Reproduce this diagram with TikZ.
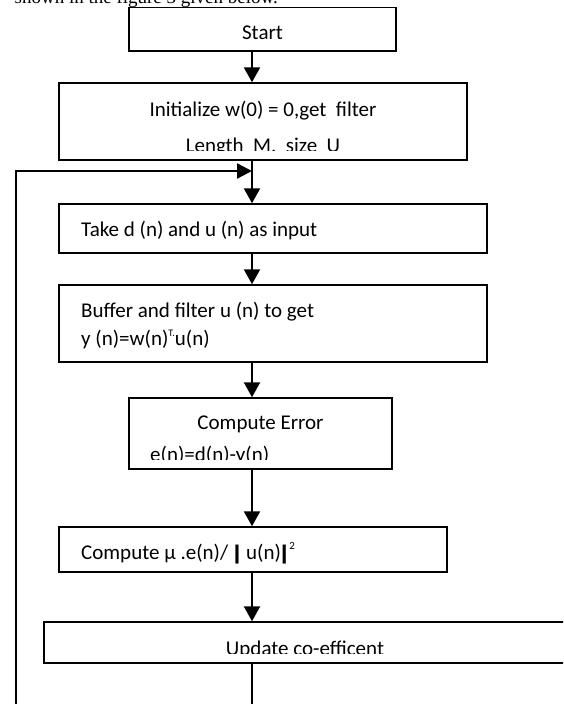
\documentclass[tikz,border=0pt]{standalone}
\usepackage{fontspec}
\setmainfont{Carlito}
\newfontfamily\pageserif{Liberation Serif}
\newfontfamily\barfont{DejaVu Sans}
\usetikzlibrary{arrows.meta}

\newcommand\thickbar{{\barfont\fontsize{19}{19}\selectfont ❙}}

\tikzset{
	box/.style={draw, line width=1.5pt, inner sep=0pt},
	boxtext/.style={inner sep=0pt, font=\fontsize{21}{25}\selectfont},
	flow/.style={line width=2.4pt, -{Triangle[length=15pt,width=16pt]}},
	loopline/.style={line width=2.4pt, -{Triangle[length=15pt,width=15pt]}},
	plainline/.style={line width=1.3pt},
}

\begin{document}
\begin{tikzpicture}[x=1pt, y=-1pt]
		%%%%% START %%%%%
		\clip (0, 0) rectangle (563, 704);
		
		\node[boxtext, font=\pageserif\fontsize{19}{23}\selectfont, anchor=base east] (caption) at (278, 3) {shown in the figure 3 given below.};
		
		\coordinate (spine) at (252, 0);
		\coordinate (join) at (252, 171);
		\coordinate (loopend) at (16, 710);
		
		% boxes
		\node[box, minimum width=267pt, minimum height=43.5pt] (start) at (262.5, 29.25) {};
		\node[box, minimum width=408pt, minimum height=77pt] (init) at (263, 121.5) {};
		\node[box, minimum width=428pt, minimum height=49pt] (take) at (273, 228.5) {};
		\node[box, minimum width=428pt, minimum height=77pt] (buffer) at (273, 323.5) {};
		\node[box, minimum width=263pt, minimum height=71pt] (error) at (260.5, 433.5) {};
		\node[box, minimum width=388pt, minimum height=45pt] (mu) at (253, 549.5) {};
		\node[box, minimum width=556pt, minimum height=41pt] (update) at (322, 642.5) {};
		
		% texts
		\node[boxtext, anchor=base] (starttxt) at (262.5, 39.5) {Start};
		\node[boxtext, anchor=base] (inittxt) at (263, 116) {Initialize w(0) = 0,get~ filter};
		\begin{scope}
			\clip (0, 0) rectangle (563, 150);
			\node[boxtext, anchor=base] (lengthtxt) at (263, 152.7) {Length~ M,~ size~ U};
		\end{scope}
		\node[boxtext, anchor=base west] (taketxt) at (81, 236) {Take d (n) and u (n) as input};
		\node[boxtext, anchor=base west] (buffertxt) at (81, 317) {Buffer and filter u (n) to get};
		\node[boxtext, anchor=base west] (ytxt) at (81, 345) {y (n)=w(n)\raisebox{9pt}{\fontsize{10}{10}\selectfont T.}u(n)};
		\node[boxtext, anchor=base] (errortxt) at (260.5, 429) {Compute Error};
		\begin{scope}
			\clip (0, 0) rectangle (563, 459);
			\node[boxtext, anchor=base west] (etxt) at (150, 461) {e(n)=d(n)-y(n)};
		\end{scope}
		\node[boxtext, anchor=base west] (mutxt) at (81, 559) {Compute μ .e(n)/\hspace{1pt}\thickbar\hspace{1pt}u(n)\hspace{-4.5pt}\thickbar\hspace{-3pt}\raisebox{10pt}{\fontsize{11}{11}\selectfont 2}};
		\begin{scope}
			\clip (0, 0) rectangle (563, 653);
			\node[boxtext, anchor=base] (updatetxt) at (305, 655.4) {Update co-efficent};
		\end{scope}
		
		% connectors
		\draw[flow] (start.south -| spine) -- (init.north -| spine);
		\draw[flow] (init.south -| spine) -- (take.north -| spine);
		\draw[loopline] (loopend) |- (join);
		\draw[flow] (take.south -| spine) -- (buffer.north -| spine);
		\draw[flow] (buffer.south -| spine) -- (error.north -| spine);
		\draw[flow] (error.south -| spine) -- (mu.north -| spine);
		\draw[flow] (mu.south -| spine) -- (update.north -| spine);
		\draw[plainline] (update.south -| spine) -- (spine |- loopend);
		
		%%%%% END %%%%%
\end{tikzpicture}
\end{document}
